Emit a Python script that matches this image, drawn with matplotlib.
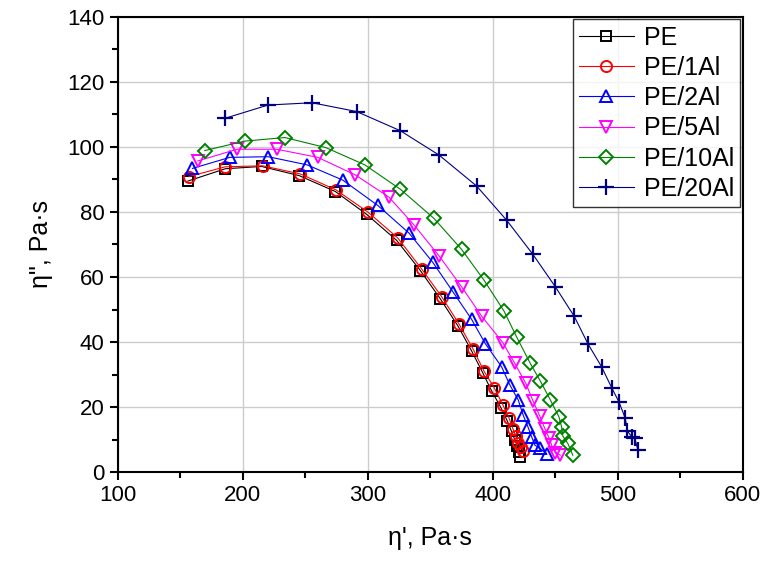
import matplotlib
matplotlib.use("Agg")
import matplotlib.pyplot as plt
from matplotlib.ticker import MultipleLocator

plt.rcParams['font.family'] = ['Liberation Sans', 'DejaVu Sans']

labels = ["PE", "PE/1Al", "PE/2Al", "PE/5Al", "PE/10Al", "PE/20Al"]

pe_x = [156, 186, 215, 245, 274, 299, 323, 342, 358, 372, 383, 392, 399, 406.5, 411.5, 415, 417.5, 419.5, 421, 422]
pe_y = [89.5, 93.3, 94, 91.2, 86.3, 79.3, 71.3, 62, 53.3, 45, 37.3, 30.5, 25, 19.8, 15.8, 12.5, 10, 8, 6.3, 4.7]

pe1_x = [157, 186, 216, 246, 274.5, 300, 324, 343, 359, 373, 384, 393, 401, 408, 413, 416, 418.4, 420.5, 422.5, 424.5]
pe1_y = [90.9, 93.9, 94.2, 91.7, 86.8, 80, 72, 62.5, 54, 45.5, 38, 31, 26, 20.7, 16.6, 13.4, 11, 9, 7.6, 6.5]

pe2_x = [159.7, 189.6, 220.3, 251.4, 280, 308, 333, 352, 368, 383, 394, 407, 413.6, 420.3, 424.3, 428, 431, 433.6, 437.6, 443]
pe2_y = [93.4, 96.8, 97, 94.5, 89.8, 82, 73.5, 64.5, 55.5, 47, 39.5, 32.4, 26.8, 22.2, 17.5, 14, 10.9, 8.3, 7.3, 5.7]

pe5_x = [164, 195.4, 227, 260, 290, 316.8, 337, 357, 375, 391, 408, 417.6, 426.4, 432, 437.6, 441.6, 445, 447, 450, 454]
pe5_y = [95.7, 99.3, 99.3, 96.8, 91.4, 84.6, 76, 66.5, 57, 48, 39.8, 33.4, 27.3, 22, 17.2, 13.4, 10.5, 8.3, 6, 5.2]

pe10_x = [169.6, 201.6, 233.6, 266.4, 297.6, 326, 353, 375, 393, 409, 419, 430, 438, 446, 453, 455, 456, 460, 464]
pe10_y = [98.9, 101.8, 102.9, 99.8, 94.5, 87, 78, 68.5, 59, 49.5, 41.6, 33.4, 28, 22.2, 16.9, 13.9, 11.1, 8.8, 5.2]

pe20_x = [185.6, 220.3, 255.4, 291, 326, 357, 387, 411, 432, 450, 465, 476.3, 487, 495, 501, 506, 507.7, 511, 513.6, 516]
pe20_y = [108.8, 112.9, 113.6, 110.9, 105, 97.5, 88, 77.5, 67, 57, 48, 39.3, 32.4, 26, 21.5, 16.5, 12.6, 10.9, 10.4, 6.8]

xs = [pe_x, pe1_x, pe2_x, pe5_x, pe10_x, pe20_x]
ys = [pe_y, pe1_y, pe2_y, pe5_y, pe10_y, pe20_y]
colors = ["black", "red", "blue", "magenta", "#008000", "#000080"]
markers = ["s", "o", "^", "v", "D", "+"]
msizes = [6.5, 8, 9, 9, 7.5, 11]

fig = plt.figure(figsize=(7.65, 5.64), dpi=100)
ax = fig.add_axes([0.154, 0.163, 0.817, 0.807])

for x, y, c, m, ms, lab in zip(xs, ys, colors, markers, msizes, labels):
    if m == "+":
        ax.plot(x, y, color=c, marker=m, ms=ms, mew=1.6, lw=0.8, label=lab, zorder=3)
    else:
        ax.plot(x, y, color=c, marker=m, ms=ms, mfc="none", mec=c, mew=1.4, lw=0.8, label=lab, zorder=3)

ax.set_xlim(100, 600)
ax.set_ylim(0, 140)
ax.xaxis.set_major_locator(MultipleLocator(100))
ax.xaxis.set_minor_locator(MultipleLocator(50))
ax.yaxis.set_major_locator(MultipleLocator(20))
ax.yaxis.set_minor_locator(MultipleLocator(10))
ax.grid(True, which="major", color="#cccccc", lw=1.0, zorder=0)
ax.set_axisbelow(True)
ax.tick_params(which="major", direction="out", length=6, width=1.5, labelsize=16)
ax.tick_params(which="minor", direction="out", length=4, width=1.5)
for s in ax.spines.values():
    s.set_linewidth(1.5)

ax.set_xlabel("η', Pa·s", fontsize=18, labelpad=14)
ax.set_ylabel('η", Pa·s', fontsize=18, labelpad=10)

leg = ax.legend(loc="upper right", fontsize=18, frameon=True, fancybox=False,
                edgecolor="black", borderaxespad=0.1, handlelength=2.2,
                handletextpad=0.4, labelspacing=0.25, borderpad=0.25)
leg.get_frame().set_linewidth(1.0)

fig.savefig("out.png", dpi=100)
